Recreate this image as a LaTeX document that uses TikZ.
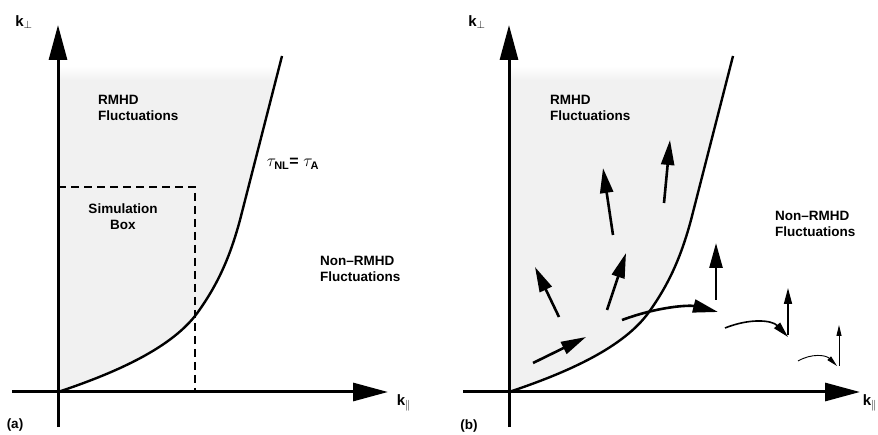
\documentclass[tikz,border=0pt]{standalone}
\usepackage{fontspec}
\setmainfont{Liberation Sans}
\usepackage{tikz}
\usetikzlibrary{arrows.meta}
\definecolor{regiongray}{HTML}{F1F1F1}

\tikzset{
  axis/.style={line width=3pt,-{Triangle[length=35pt,width=18pt]}},
  critline/.style={line width=2.4pt},
  boxline/.style={line width=2.5pt,dash pattern=on 8pt off 5pt},
  bigvec/.style={line width=2.6pt,-{Triangle[length=25pt,width=13pt]}},
  midvec/.style={line width=1.6pt,-{Triangle[length=16pt,width=8pt]}},
  smallvec/.style={line width=0.9pt,-{Triangle[length=11pt,width=5pt]}},
  regiontext/.style={align=left,anchor=north west}
}

\begin{document}
\begin{tikzpicture}[x=1pt,y=-1pt,every node/.style={font=\fontsize{13.5}{16}\selectfont\bfseries,inner sep=0pt}]
\useasboundingbox (0,0) rectangle (878,435);

% panel (a)
\fill[regiongray] (58,392) .. controls (118,372) and (173,347) .. (198,312)
  .. controls (218,284) and (230,257) .. (240,220) -- (276,80) -- (58,80) -- cycle;
\shade[top color=white,bottom color=regiongray] (58,66) rectangle (276,80);
\draw[critline] (58,392) .. controls (118,372) and (173,347) .. (198,312)
  .. controls (218,284) and (230,257) .. (240,220) -- (282,56);

\coordinate (a0) at (58,187);
\coordinate (a1) at (195,187);
\coordinate (a2) at (195,392);
\draw[boxline] (a0) -- (a1) -- (a2);

\coordinate (ay0) at (58,427);
\coordinate (ay1) at (58,25);
\coordinate (ax0) at (12,392);
\coordinate (ax1) at (388,392);
\draw[axis] (ay0) -- (ay1);
\draw[axis] (ax0) -- (ax1);

\node (kperpa) at (24,22) {\fontsize{15}{16}\selectfont k$_{\perp}$};
\node (kpara) at (404,403) {\fontsize{15}{16}\selectfont k$_{\parallel}$};
\node (laba) at (15,425) {(a)};
\node[regiontext] (rmhda) at (98,95) {RMHD\\Fluctuations};
\node[align=center] (simbox) at (123,217) {Simulation\\Box};
\node[regiontext] (nonrmhda) at (320,256) {Non--RMHD\\Fluctuations};
\node (taueq) at (293,164) {\fontsize{16}{16}\selectfont$\tau_{\textbf{\fontsize{11}{12}\selectfont NL}}$= $\tau_{\textbf{\fontsize{11}{12}\selectfont A}}$};

% panel (b)
\begin{scope}[xshift=451pt]
  \fill[regiongray] (58,392) .. controls (118,372) and (173,347) .. (198,312)
    .. controls (218,284) and (230,257) .. (240,220) -- (276,80) -- (58,80) -- cycle;
  \shade[top color=white,bottom color=regiongray] (58,66) rectangle (276,80);
  \draw[critline] (58,392) .. controls (118,372) and (173,347) .. (198,312)
    .. controls (218,284) and (230,257) .. (240,220) -- (282,56);
\end{scope}

\coordinate (by0) at (509,427);
\coordinate (by1) at (509,25);
\coordinate (bx0) at (463,392);
\coordinate (bx1) at (860,392);
\draw[axis] (by0) -- (by1);
\draw[axis] (bx0) -- (bx1);

\node (kperpb) at (477,22) {\fontsize{15}{16}\selectfont k$_{\perp}$};
\node (kparb) at (870,403) {\fontsize{15}{16}\selectfont k$_{\parallel}$};
\node (labb) at (469,426) {(b)};
\node[regiontext] (rmhdb) at (550,95) {RMHD\\Fluctuations};
\node[regiontext] (nonrmhdb) at (775,211) {Non--RMHD\\Fluctuations};

% wave vectors
\coordinate (v1s) at (613,235);  \coordinate (v1e) at (603,168);
\coordinate (v2s) at (664,203);  \coordinate (v2e) at (670,140);
\coordinate (v3s) at (559,317);  \coordinate (v3e) at (535,267);
\coordinate (v4s) at (607,310);  \coordinate (v4e) at (626,253);
\coordinate (v5s) at (533,363);  \coordinate (v5e) at (586,337);
\coordinate (v6s) at (622,320);  \coordinate (v6e) at (718,312);
\coordinate (v7s) at (716,300);  \coordinate (v7e) at (716,243);
\coordinate (v8s) at (725,328);  \coordinate (v8e) at (788,337);
\coordinate (v9s) at (788,335);  \coordinate (v9e) at (788,288);
\coordinate (v10s) at (798,361); \coordinate (v10e) at (837,366);
\coordinate (v11s) at (839,366); \coordinate (v11e) at (839,325);

\draw[bigvec] (v1s) -- (v1e);
\draw[bigvec] (v2s) -- (v2e);
\draw[bigvec] (v3s) -- (v3e);
\draw[bigvec] (v4s) -- (v4e);
\draw[bigvec] (v5s) -- (v5e);
\draw[bigvec] (v6s) .. controls (660,306) and (690,305) .. (v6e);
\draw[bigvec] (v7s) -- (v7e);
\draw[midvec] (v8s) .. controls (750,318) and (772,320) .. (v8e);
\draw[midvec] (v9s) -- (v9e);
\draw[smallvec] (v10s) .. controls (812,353) and (826,355) .. (v10e);
\draw[smallvec] (v11s) -- (v11e);
\end{tikzpicture}
\end{document}
